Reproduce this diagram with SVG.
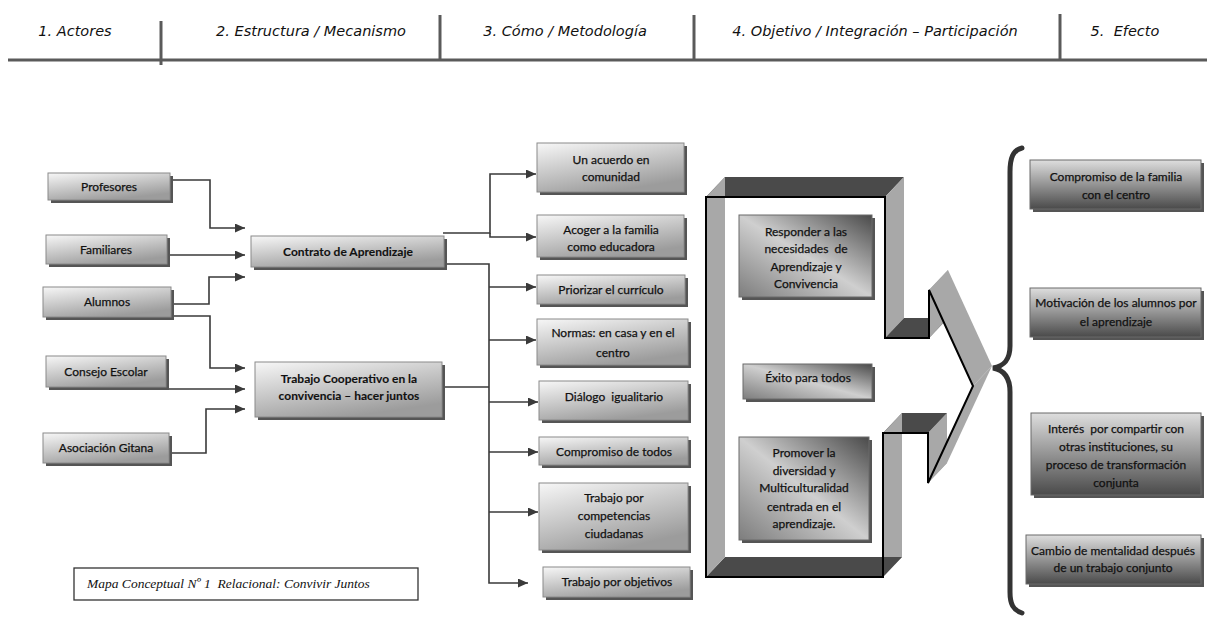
<svg xmlns="http://www.w3.org/2000/svg" width="1207" height="620" viewBox="0 0 1207 620">
<defs>
<linearGradient id="gL" x1="0" y1="0" x2="0.5" y2="1"><stop offset="0" stop-color="#f7f7f7"/><stop offset="1" stop-color="#9c9c9c"/></linearGradient>
<linearGradient id="gR" x1="0" y1="0" x2="0" y2="1"><stop offset="0" stop-color="#dedede"/><stop offset="1" stop-color="#4a4a4a"/></linearGradient>
<linearGradient id="gI" x1="1" y1="0" x2="0" y2="1"><stop offset="0" stop-color="#4a4a4a"/><stop offset="0.5" stop-color="#cfcfcf"/><stop offset="1" stop-color="#7d7d7d"/></linearGradient>
<marker id="ah" markerWidth="10" markerHeight="9" refX="10" refY="4.5" orient="auto" markerUnits="userSpaceOnUse"><path d="M0,0 L10,4.5 L0,9 z" fill="#3a3a3a"/></marker>
<style>
.sh{fill:#555555}
.bl{fill:url(#gL);stroke:#8a8a8a;stroke-width:1}
.br{fill:url(#gR);stroke:#6a6a6a;stroke-width:1}
.bi{fill:url(#gI);stroke:#6a6a6a;stroke-width:1}
.t{font-family:Lato,"Open Sans","Liberation Sans",sans-serif;font-size:12px;fill:#111;stroke:#111;stroke-width:0.25;text-anchor:middle}
.tb{font-weight:bold;stroke-width:0.1}
.hd{font-family:"DejaVu Sans",Verdana,sans-serif;font-style:italic;font-size:14.5px;fill:#111;text-anchor:middle}
.hl{stroke:#5a5a5a;stroke-width:3;fill:none}
.cn{stroke:#3a3a3a;stroke-width:1.6;fill:none}
.lt{fill:#a8a8a8}
.dk{fill:#4a4a4a}
</style>
</defs>
<rect width="1207" height="620" fill="#ffffff"/>

<g id="header">
<line class="hl" x1="8" y1="60" x2="1207" y2="60"/>
<line class="hl" x1="161" y1="21" x2="161" y2="65"/>
<line class="hl" x1="440" y1="15" x2="440" y2="60"/>
<line class="hl" x1="694" y1="15" x2="694" y2="60"/>
<line class="hl" x1="1060" y1="14" x2="1060" y2="60"/>
<text class="hd" x="75" y="36">1. Actores</text>
<text class="hd" x="311" y="36">2. Estructura / Mecanismo</text>
<text class="hd" x="565" y="36">3. Cómo / Metodología</text>
<text class="hd" x="875" y="36">4. Objetivo / Integración – Participación</text>
<text class="hd" x="1125" y="36" xml:space="preserve">5.  Efecto</text>
</g>

<g id="connectors">
<path class="cn" d="M173,180 H210 V228 H245" marker-end="url(#ah)"/>
<path class="cn" d="M170,255 H245" marker-end="url(#ah)"/>
<path class="cn" d="M174,304 H209 V277 H245" marker-end="url(#ah)"/>
<path class="cn" d="M174,316 H210 V368 H245" marker-end="url(#ah)"/>
<path class="cn" d="M169,389 H245" marker-end="url(#ah)"/>
<path class="cn" d="M172,453 H206 V409 H245" marker-end="url(#ah)"/>
<path class="cn" d="M443,233 H490 V174 H536" marker-end="url(#ah)"/>
<path class="cn" d="M490,233 V237 H536" marker-end="url(#ah)"/>
<path class="cn" d="M447,264 H489 V583 H528" marker-end="url(#ah)"/>
<path class="cn" d="M489,287 H536" marker-end="url(#ah)"/>
<path class="cn" d="M489,340 H536" marker-end="url(#ah)"/>
<path class="cn" d="M489,402 H538" marker-end="url(#ah)"/>
<path class="cn" d="M489,452 H538" marker-end="url(#ah)"/>
<path class="cn" d="M489,512 H538" marker-end="url(#ah)"/>
<path class="cn" d="M445,387 H489"/>
</g>

<g id="n-profesores"><rect class="sh" x="51" y="176" width="122" height="27"/><rect class="bl" x="48" y="173" width="122" height="27"/><text class="t" x="109" y="191">Profesores</text></g>
<g id="n-familiares"><rect class="sh" x="49" y="238" width="121" height="29"/><rect class="bl" x="46" y="235" width="121" height="29"/><text class="t" x="106" y="254">Familiares</text></g>
<g id="n-alumnos"><rect class="sh" x="46" y="290" width="128" height="30"/><rect class="bl" x="43" y="287" width="128" height="30"/><text class="t" x="107" y="306">Alumnos</text></g>
<g id="n-consejo"><rect class="sh" x="49" y="359" width="120" height="31"/><rect class="bl" x="46" y="356" width="120" height="31"/><text class="t" x="106" y="376">Consejo Escolar</text></g>
<g id="n-asociacion"><rect class="sh" x="46" y="436" width="126" height="30"/><rect class="bl" x="43" y="433" width="126" height="30"/><text class="t" x="106" y="452">Asociación Gitana</text></g>

<g id="n-contrato"><rect class="sh" x="254" y="239" width="193" height="31"/><rect class="bl" x="251" y="236" width="193" height="31"/><text class="t tb" x="348" y="256">Contrato de Aprendizaje</text></g>
<g id="n-trabajo"><rect class="sh" x="258" y="365" width="187" height="55"/><rect class="bl" x="255" y="362" width="187" height="55"/><text class="t tb" x="349" y="383">Trabajo Cooperativo en la</text><text class="t tb" x="349" y="400">convivencia – hacer juntos</text></g>

<g id="n-acuerdo"><rect class="sh" x="540" y="146" width="147" height="49"/><rect class="bl" x="537" y="143" width="147" height="49"/><text class="t" x="611" y="164">Un acuerdo en</text><text class="t" x="611" y="181">comunidad</text></g>
<g id="n-acoger"><rect class="sh" x="540" y="218" width="147" height="42"/><rect class="bl" x="537" y="215" width="147" height="42"/><text class="t" x="611" y="234">Acoger a la familia</text><text class="t" x="611" y="251">como educadora</text></g>
<g id="n-priorizar"><rect class="sh" x="540" y="278" width="148" height="29"/><rect class="bl" x="537" y="275" width="148" height="29"/><text class="t" x="611" y="294">Priorizar el currículo</text></g>
<g id="n-normas"><rect class="sh" x="540" y="322" width="151" height="46"/><rect class="bl" x="537" y="319" width="151" height="46"/><text class="t" x="613" y="337">Normas: en casa y en el</text><text class="t" x="613" y="357">centro</text></g>
<g id="n-dialogo"><rect class="sh" x="542" y="384" width="149" height="39"/><rect class="bl" x="539" y="381" width="149" height="39"/><text class="t" x="614" y="401" xml:space="preserve">Diálogo  igualitario</text></g>
<g id="n-compromiso"><rect class="sh" x="542" y="440" width="149" height="28"/><rect class="bl" x="539" y="437" width="149" height="28"/><text class="t" x="614" y="456">Compromiso de todos</text></g>
<g id="n-competencias"><rect class="sh" x="542" y="486" width="149" height="67"/><rect class="bl" x="539" y="483" width="149" height="67"/><text class="t" x="614" y="502">Trabajo por</text><text class="t" x="614" y="520">competencias</text><text class="t" x="614" y="538">ciudadanas</text></g>
<g id="n-objetivos"><rect class="sh" x="546" y="570" width="147" height="30"/><rect class="bl" x="543" y="567" width="147" height="30"/><text class="t" x="617" y="586">Trabajo por objetivos</text></g>

<g id="n-bracket3d">
<polygon class="dk" points="706,197 725,177 904,177 885,197"/>
<polygon class="lt" points="885,197 904,177 904,318 885,338"/>
<polygon class="dk" points="885,338 904,318 948,318 929,338"/>
<polygon class="lt" points="929,290 948,270 948,318 929,338"/>
<polygon class="lt" points="929,290 948,270 992,366 973,386"/>
<polygon class="lt" points="973,386 992,366 947,463 928,483"/>
<polygon class="lt" points="928,433 947,413 947,463 928,483"/>
<polygon class="dk" points="883,433 902,413 947,413 928,433"/>
<polygon class="lt" points="883,433 902,413 902,557 883,577"/>
<polygon class="dk" points="706,577 725,557 902,557 883,577"/>
<polygon class="lt" points="706,197 725,177 725,557 706,577"/>
<polygon points="706,197 885,197 885,338 929,338 929,290 973,386 928,483 928,433 883,433 883,577 706,577" fill="none" stroke="#000" stroke-width="2" stroke-linejoin="miter"/>
</g>

<g id="n-responder"><rect class="sh" x="742" y="218" width="133" height="82"/><rect class="bi" x="739" y="215" width="133" height="82"/><text class="t" x="806" y="236">Responder a las</text><text class="t" x="806" y="253" xml:space="preserve">necesidades  de</text><text class="t" x="806" y="271">Aprendizaje y</text><text class="t" x="806" y="288">Convivencia</text></g>
<g id="n-exito"><rect class="sh" x="746" y="367" width="129" height="35"/><rect class="bi" x="743" y="364" width="129" height="35"/><text class="t" x="808" y="382">Éxito para todos</text></g>
<g id="n-promover"><rect class="sh" x="742" y="440" width="130" height="103"/><rect class="bi" x="739" y="437" width="130" height="103"/><text class="t" x="804" y="457">Promover la</text><text class="t" x="804" y="475">diversidad y</text><text class="t" x="804" y="492">Multiculturalidad</text><text class="t" x="804" y="511">centrada en el</text><text class="t" x="804" y="528">aprendizaje.</text></g>

<g id="brace">
<path d="M1022,148 C1013,150 1010,158 1010,172 L1010,346 C1010,360 1004,366 993,368 C1004,370 1010,377 1010,392 L1010,592 C1010,604 1013,610 1022,613" fill="none" stroke="#333" stroke-width="5" stroke-linecap="round"/>
</g>

<g id="n-efecto1"><rect class="sh" x="1033" y="163" width="171" height="49"/><rect class="br" x="1030" y="160" width="171" height="49"/><text class="t" x="1116" y="181">Compromiso de la familia</text><text class="t" x="1116" y="199">con el centro</text></g>
<g id="n-efecto2"><rect class="sh" x="1033" y="291" width="171" height="49"/><rect class="br" x="1030" y="288" width="171" height="49"/><text class="t" x="1116" y="307">Motivación de los alumnos por</text><text class="t" x="1116" y="326">el aprendizaje</text></g>
<g id="n-efecto3"><rect class="sh" x="1034" y="416" width="170" height="82"/><rect class="br" x="1031" y="413" width="170" height="82"/><text class="t" x="1116" y="433" xml:space="preserve">Interés  por compartir con</text><text class="t" x="1116" y="451">otras instituciones, su</text><text class="t" x="1116" y="469">proceso de transformación</text><text class="t" x="1116" y="487">conjunta</text></g>
<g id="n-efecto4"><rect class="sh" x="1029" y="538" width="175" height="49"/><rect class="br" x="1026" y="535" width="175" height="49"/><text class="t" x="1113" y="555">Cambio de mentalidad después</text><text class="t" x="1113" y="572">de un trabajo conjunto</text></g>

<g id="caption">
<rect x="74" y="568" width="344" height="32" fill="#fff" stroke="#333" stroke-width="1.3"/>
<text x="87" y="588" font-family="'Liberation Serif','Times New Roman',serif" font-style="italic" font-size="13.5" fill="#111" xml:space="preserve">Mapa Conceptual Nº 1  Relacional: Convivir Juntos</text>
</g>
</svg>
